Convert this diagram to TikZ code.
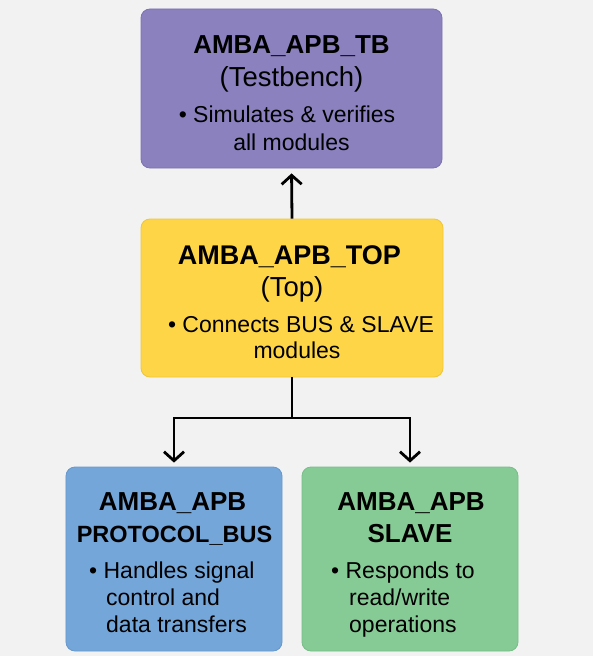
\documentclass[tikz,border=0pt]{standalone}
\usepackage{fontspec}
\setmainfont{Liberation Sans}
\usetikzlibrary{arrows.meta}
\definecolor{bgc}{HTML}{F2F2F2}
\definecolor{purplef}{HTML}{8B81BF}
\definecolor{purpled}{HTML}{7C72B2}
\definecolor{yellowf}{HTML}{FDD546}
\definecolor{yellowd}{HTML}{F0C73A}
\definecolor{bluef}{HTML}{75A6D9}
\definecolor{blued}{HTML}{6698CC}
\definecolor{greenf}{HTML}{86CB95}
\definecolor{greend}{HTML}{77BE87}
\tikzset{
  box/.style={rounded corners=9bp, line width=0.8bp, inner sep=0pt},
  ttl/.style={inner sep=0pt, anchor=base, font=\fontsize{26bp}{30bp}\selectfont\bfseries},
  ttlsm/.style={ttl, font=\fontsize{23.5bp}{30bp}\selectfont\bfseries},
  sub/.style={inner sep=0pt, anchor=base, font=\fontsize{27.5bp}{30bp}\selectfont},
  txt/.style={inner sep=0pt, anchor=base, font=\fontsize{23bp}{28bp}\selectfont},
  txtl/.style={txt, anchor=base west},
  conn/.style={line width=2.8bp, black, -{Straight Barb[length=9bp,width=20bp,line width=2.8bp]}},
  plain/.style={line width=2.8bp, black}
}
\begin{document}
\begin{tikzpicture}[x=1bp,y=-1bp]
\useasboundingbox[fill=bgc] (0,0) rectangle (593,656);
% boxes
\node[box, draw=purpled, fill=purplef, minimum width=301bp, minimum height=159bp] (tb) at (291.5,88.5) {};
\node[box, draw=yellowd, fill=yellowf, minimum width=302bp, minimum height=158bp] (top) at (292,298) {};
\node[box, draw=blued, fill=bluef, minimum width=216bp, minimum height=184bp] (bus) at (174,559) {};
\node[box, draw=greend, fill=greenf, minimum width=216bp, minimum height=184bp] (slave) at (410,559) {};
% TB text
\node[ttl] (tbt) at (291.5,54) {AMBA\_APB\_TB};
\node[sub] (tbs) at (291.5,87) {(Testbench)};
\node[txt] (tb1) at (287,123) {• Simulates \& verifies};
\node[txt] (tb2) at (291.5,150) {all modules};
% TOP text
\node[ttl, font=\fontsize{27bp}{30bp}\selectfont\bfseries] (topt) at (289.5,264) {AMBA\_APB\_TOP};
\node[sub] (tops) at (292,296) {(Top)};
\node[txt] (top1) at (301,332) {• Connects BUS \& SLAVE};
\node[txt] (top2) at (297,358) {modules};
% BUS text
\node[ttl] (bust1) at (172.5,510) {AMBA\_APB};
\node[ttlsm] (bust2) at (174.5,542) {PROTOCOL\_BUS};
\node[txtl] (bus1) at (89,578) {• Handles signal};
\node[txtl] (bus2) at (106,605) {control and};
\node[txtl] (bus3) at (106,632) {data transfers};
% SLAVE text
\node[ttl] (slt1) at (411,510) {AMBA\_APB};
\node[ttl] (slt2) at (410,542) {SLAVE};
\node[txtl] (sl1) at (331,578) {• Responds to};
\node[txtl] (sl2) at (349,605) {read/write};
\node[txtl] (sl3) at (349,632) {operations};
% connectors
\draw[conn, shorten >=5bp] (top.north) -- (tb.south);
\coordinate (j) at (292,418);
\draw[plain] (top.south) -- (j);
\draw[conn, shorten >=4bp] (j) -| (bus.north);
\draw[conn, shorten >=4bp] (j) -| (slave.north);
\end{tikzpicture}
\end{document}
